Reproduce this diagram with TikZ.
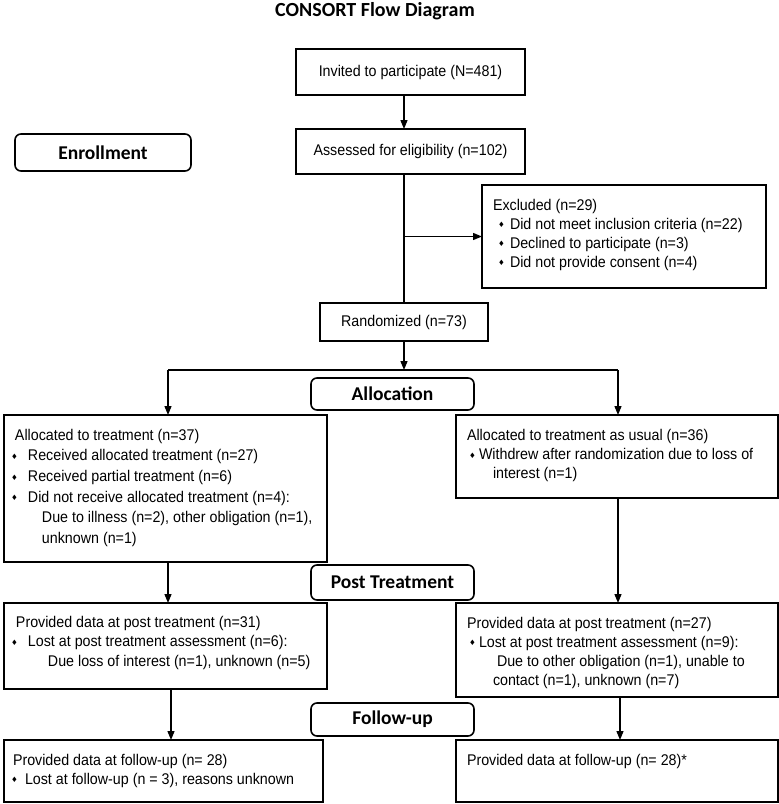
\documentclass[tikz,border=0pt]{standalone}
\usepackage{fontspec}
\setmainfont{Liberation Sans}[FakeStretch=0.92]
\newfontfamily\headfont{Carlito}
\newfontfamily\symfont{DejaVu Sans}
\usetikzlibrary{arrows.meta,calc}
\newcommand{\bulbox}[1]{\makebox[#1][l]{\raisebox{1.2pt}{\symfont\fontsize{7.5}{7.5}\selectfont ♦}}}
\newcommand{\bodyfont}{\fontsize{15.5}{19.5}\selectfont}
\begin{document}
\begin{tikzpicture}[x=1pt,y=-1pt,
  box/.style={draw, line width=1.8pt, inner sep=0pt, outer sep=0pt, anchor=north west},
  cbox/.style={draw, line width=1.8pt, inner sep=0pt, outer sep=0pt, font=\bodyfont},
  rbox/.style={draw, line width=1.6pt, rounded corners=6pt, inner sep=0pt, outer sep=0pt,
    minimum width=163pt, font=\headfont\bfseries\fontsize{19.5}{22}\selectfont},
  txt/.style={anchor=north west, inner sep=0pt, outer sep=0pt, align=left, font=\bodyfont},
  arr/.style={line width=1.3pt, -{Triangle[length=9pt,width=7pt]}},
  conn/.style={line width=1.3pt}]
\useasboundingbox (0,0) rectangle (779,804);

% title
\node[font=\headfont\bfseries\fontsize{20}{24}\selectfont, inner sep=0pt] (title) at (375,11) {CONSORT Flow Diagram};

% enrollment
\node[cbox, minimum width=229pt, minimum height=46pt] (inv) at (410.5,72) {Invited to participate (N=481)};
\node[cbox, minimum width=229pt, minimum height=45pt] (ass) at (410.5,151.5) {Assessed for eligibility (n=102)};
\node[rbox, minimum width=176pt, minimum height=37pt] (enr) at (103,152.5) {Enrollment};

\node[box, minimum width=284pt, minimum height=103pt] (exc) at (482,185) {};
\node[txt] (exct) at (493,198) {\rule{0pt}{12pt}Excluded (n=29)\\[-0.5pt]
\hspace*{5pt}\bulbox{12pt}Did not meet inclusion criteria (n=22)\\[-0.5pt]
\hspace*{5pt}\bulbox{12pt}Declined to participate (n=3)\\[-0.5pt]
\hspace*{5pt}\bulbox{12pt}Did not provide consent (n=4)};

\node[cbox, minimum width=168pt, minimum height=38pt] (ran) at (404,322) {Randomized (n=73)};

% allocation
\node[rbox, minimum height=32pt] (alloc) at (392.5,394) {Allocation};

\node[box, minimum width=323pt, minimum height=147pt] (a1) at (4,415) {};
\node[txt] (a1t) at (15,428) {\rule{0pt}{12pt}Allocated to treatment (n=37)\\[1.2pt]
\hspace*{-4pt}\bulbox{17pt}Received allocated treatment (n=27)\\[1.2pt]
\hspace*{-4pt}\bulbox{17pt}Received partial treatment (n=6)\\[1.2pt]
\hspace*{-4pt}\bulbox{17pt}Did not receive allocated treatment (n=4):\\[1.2pt]
\hspace*{27pt}Due to illness (n=2), other obligation (n=1),\\[1.2pt]
\hspace*{27pt}unknown (n=1)};

\node[box, minimum width=322pt, minimum height=83pt] (a2) at (456,415) {};
\node[txt] (a2t) at (467,428) {\rule{0pt}{12pt}Allocated to treatment as usual (n=36)\\[-0.2pt]
\hspace*{2pt}\bulbox{10pt}Withdrew after randomization due to loss of\\[-0.2pt]
\hspace*{26pt}interest (n=1)};

% post treatment
\node[rbox, minimum height=35pt] (post) at (392.5,582.5) {Post Treatment};

\node[box, minimum width=323pt, minimum height=86pt] (p1) at (4,603) {};
\node[txt] (p1t) at (16,615) {\rule{0pt}{12pt}Provided data at post treatment (n=31)\\
\hspace*{-5pt}\bulbox{17pt}Lost at post treatment assessment (n=6):\\
\hspace*{32pt}Due loss of interest (n=1), unknown (n=5)};

\node[box, minimum width=322pt, minimum height=94pt] (p2) at (456,603) {};
\node[txt] (p2t) at (467,616) {\rule{0pt}{12pt}Provided data at post treatment (n=27)\\[-0.5pt]
\hspace*{2pt}\bulbox{10pt}Lost at post treatment assessment (n=9):\\[-0.5pt]
\hspace*{30pt}Due to other obligation (n=1), unable to\\[-0.5pt]
\hspace*{26pt}contact (n=1), unknown (n=7)};

% follow-up
\node[rbox, minimum height=33pt] (fol) at (392.5,719.5) {Follow-up};

\node[box, minimum width=319pt, minimum height=62pt] (f1) at (4,740) {};
\node[txt] (f1t) at (13,753) {\rule{0pt}{12pt}Provided data at follow-up (n= 28)\\[-0.5pt]
\hspace*{-2pt}\bulbox{14pt}Lost at follow-up (n = 3), reasons unknown};

\node[box, minimum width=322pt, minimum height=62pt] (f2) at (456,740) {};
\node[txt] (f2t) at (467,753) {\rule{0pt}{12pt}Provided data at follow-up (n= 28)*};

% connectors
\draw[arr] (inv.south -| ran.north) -- (ass.north -| ran.north);
\draw[conn] (ass.south -| ran.north) -- (ran.north);
\draw[arr] (ran.north |- exc.west) -- (exc.west);
\coordinate (sp) at (404,370);
\coordinate (spL) at (168,370);
\coordinate (spR) at (618,370);
\draw[arr] (ran.south) -- (sp);
\draw[conn] (spL) -- (spR);
\draw[arr] (spL) -- (spL |- a1.north);
\draw[arr] (spR) -- (spR |- a2.north);
\draw[arr] (a1.south -| spL) -- (p1.north -| spL);
\draw[arr] (a2.south -| spR) -- (p2.north -| spR);
\coordinate (cL) at (171,0);
\coordinate (cR) at (620,0);
\draw[arr] (p1.south -| cL) -- (f1.north -| cL);
\draw[arr] (p2.south -| cR) -- (f2.north -| cR);
\end{tikzpicture}
\end{document}
